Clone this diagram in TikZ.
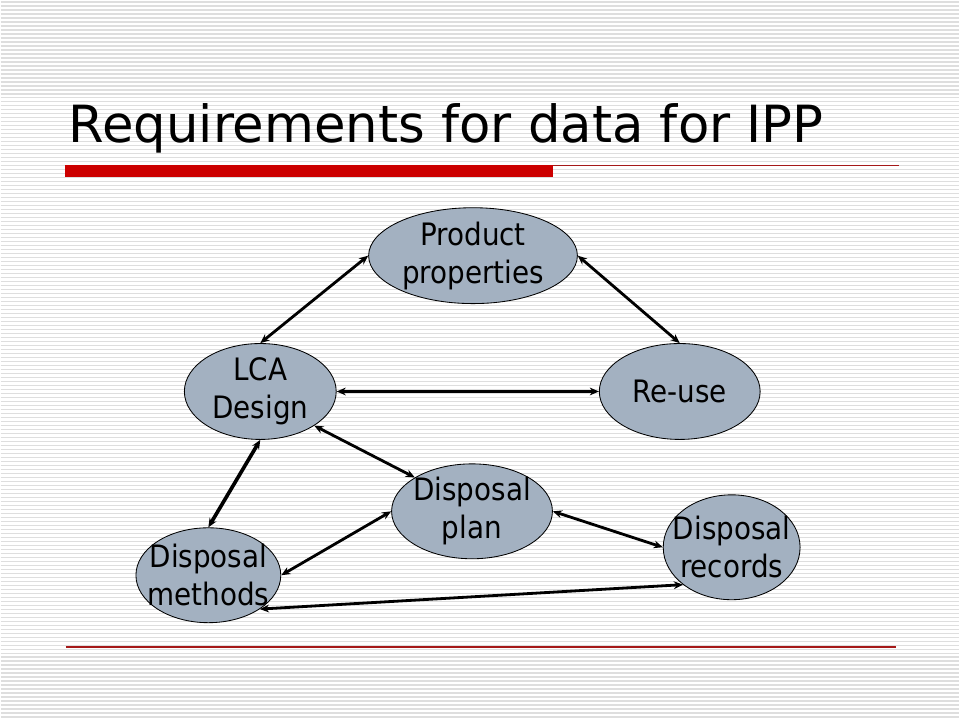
\documentclass[tikz,border=0pt]{standalone}
\usepackage{fontspec}
\setmainfont{DejaVu Sans}
\newfontfamily\blobfont{DejaVu Sans}[FakeStretch=0.9]
\usepackage{tikz}
\usetikzlibrary{arrows.meta,shapes.geometric}
\definecolor{stripe}{RGB}{222,222,222}
\definecolor{blobfill}{RGB}{163,177,193}
\definecolor{barred}{RGB}{204,0,0}
\definecolor{linered}{RGB}{165,25,25}
\tikzset{data ellipse/.style={draw, ellipse, fill=blobfill, inner sep=0pt, line width=0.6pt}}
\tikzset{data text/.style={align=center, inner sep=0pt, font=\blobfont\fontsize{22}{27}\selectfont}}
\tikzset{data arrow/.style={{Stealth[length=6.5pt,width=5.5pt]}-{Stealth[length=6.5pt,width=5.5pt]}, line width=2pt}}

\begin{document}
\begin{tikzpicture}[x=0.025cm, y=-0.025cm]
\fill[white] (0,0) rectangle (960,720);
\foreach \y in {2,6,...,718}
	\draw[stripe, line width=0.9pt] (0,\y) -- (960,\y);
\useasboundingbox (0,0) rectangle (960,720);

% title and rules
\node[anchor=base west, inner sep=0pt, font=\fontsize{36.5}{40}\selectfont] (title) at (68,143) {Requirements for data for IPP};
\fill[barred] (64,165) rectangle (553,177);
\draw[linered, line width=1pt] (553,165.5) -- (900,165.5);
\draw[linered, line width=1pt] (65,648) -- (897,648);

\node[data ellipse, minimum width=5.225cm, minimum height=2.4cm, label={[data text]center:Product\\properties}] (product) at (473,256) {};
\node[data ellipse, minimum width=3.8cm, minimum height=2.4cm, label={[data text]center:LCA\\Design}] (lca) at (260,392) {};
\node[data ellipse, minimum width=4.025cm, minimum height=2.4cm, label={[data text]center:Re-use}] (reuse) at (680,392) {};
\node[data ellipse, minimum width=4.025cm, minimum height=2.375cm, label={[data text]center:Disposal\\plan}] (plan) at (472,512) {};
\node[data ellipse, minimum width=3.625cm, minimum height=2.375cm, label={[data text]center:Disposal\\methods}] (methods) at (208,576) {};
\node[data ellipse, minimum width=3.425cm, minimum height=2.625cm, label={[data text]center:Disposal\\records}] (records) at (732,548) {};

\draw[data arrow] (product.west) -- (lca.north);
\draw[data arrow] (product.east) -- (reuse.north);
\draw[data arrow] (lca.east) -- (reuse.west);
\draw[data arrow] (lca.south east) -- (plan.north west);
\draw[data arrow, line width=2.6pt] (lca.south) -- (methods.north);
\draw[data arrow] (methods.east) -- (plan.west);
\draw[data arrow] (plan.east) -- (records.west);
\draw[data arrow] (methods.south east) -- (records.south west);

\end{tikzpicture}
\end{document}
